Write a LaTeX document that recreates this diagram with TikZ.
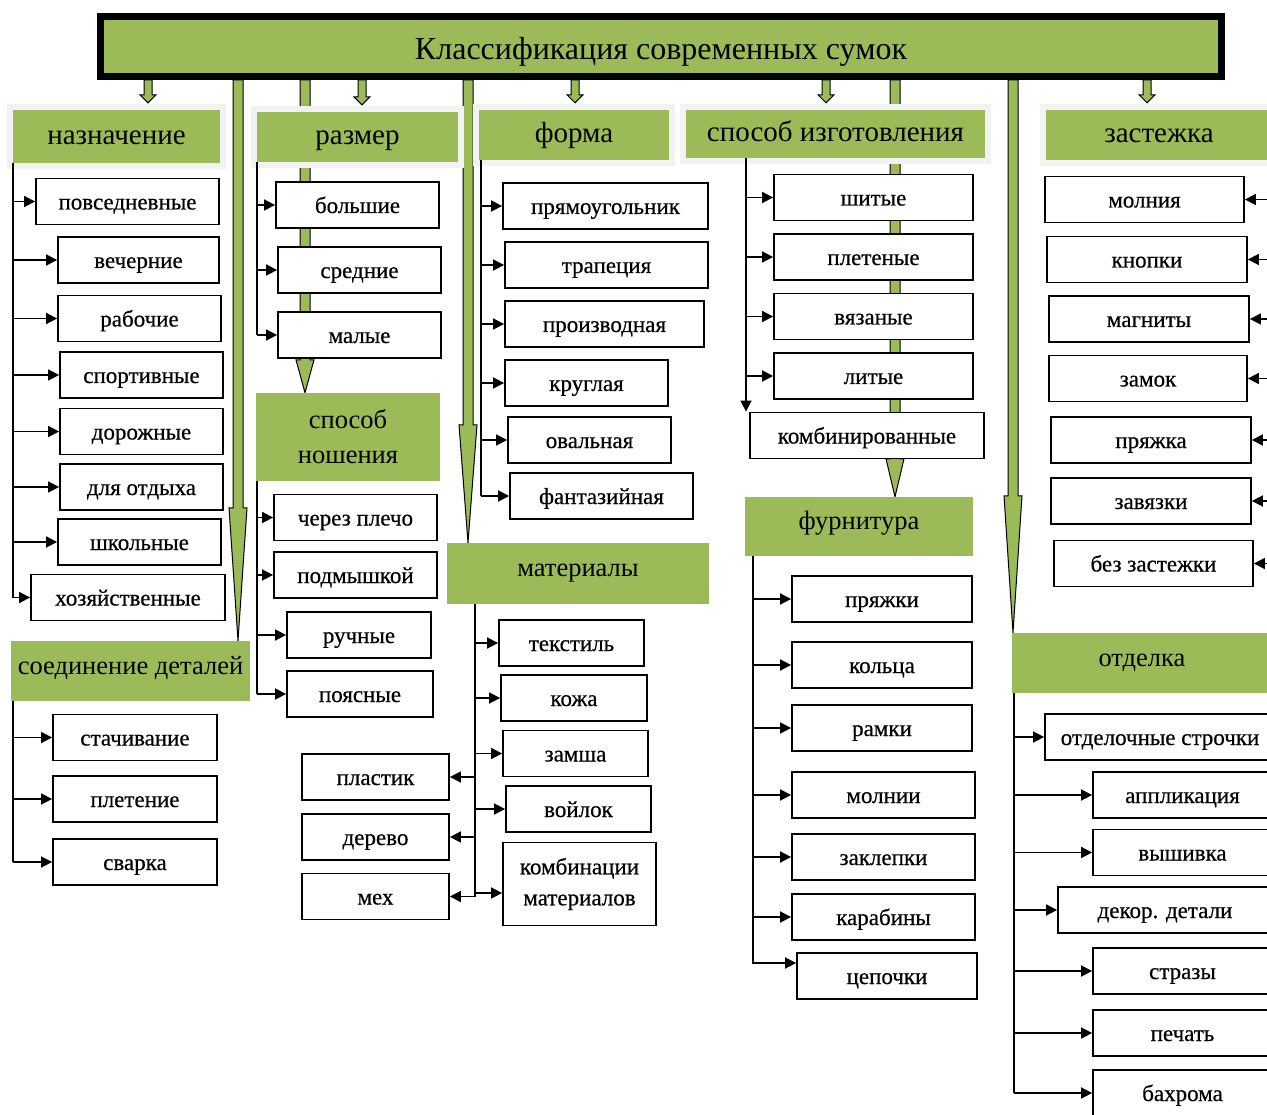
\documentclass[tikz,border=0pt]{standalone}
\usepackage{fontspec}
\setmainfont{Liberation Serif}
\newfontfamily\vidfam[FakeBold=0.5]{Liberation Serif}
\usetikzlibrary{arrows.meta,calc,shadows,backgrounds}
\definecolor{olivegr}{HTML}{9BBB59}
\newcommand\titfont{\fontsize{32}{36}\selectfont}
\newcommand\grpfont{\fontsize{29}{35}\selectfont}
\newcommand\grpbfont{\fontsize{26.5}{35}\selectfont}
\newcommand\vidfont{\vidfam\fontsize{23}{31}\selectfont}
\tikzset{
  kl/.style={draw, line width=7, fill=olivegr, minimum width=1121, minimum height=60, font=\titfont,
    text height=30, text depth=3,
    drop shadow={shadow xshift=3pt, shadow yshift=-3pt, fill=black!45}},
  grp/.style={fill=olivegr, inner sep=2, font=\grpfont},
  grpt/.style={grp, text height=20, text depth=4, preaction={draw=black!5, line width=12}},
  grpb/.style={grp, font=\grpbfont, text height=15, text depth=9},
  vid/.style={draw, line width=1.8, fill=white, minimum height=46, inner sep=1, font=\vidfont},
  vidl/.style={vid, text height=19, text depth=3},
  con/.style={line width=1.7, ->},
  garr/.style={draw, line width=1, fill=olivegr, line join=miter},
}
\begin{document}
\begin{tikzpicture}[x=1pt, y=-1pt, >={Triangle[length=11pt,width=11pt]}, line cap=butt]
\useasboundingbox (0,0) rectangle (1267,1115);
% заголовок
\node[kl] (title) at (661,46.5) {Классификация современных сумок};
% группы признаков
\foreach \n/\x/\y/\w/\h/\t in {h1/116.5/136.5/207/53/назначение, h2/357.5/137/201/50/размер,
  h3/574/135/190/50/форма, h4/835.5/134/299/48/способ изготовления, h5/1159/135/226/50/застежка}
  \node[grpt, minimum width=\w, minimum height=\h] (\n) at (\x,\y) {\t};
\foreach \n/\x/\y/\w/\h/\t in {h7/130.5/671/239/60/соединение деталей, h8/578/573.5/262/61/материалы,
  h9/859/526.5/228/59/фурнитура, h10/1142/663/260/60/отделка}
  \node[grpb, minimum width=\w, minimum height=\h] (\n) at (\x,\y) {\t};
\node[grp, font=\grpbfont, minimum width=184, minimum height=88, align=center] (h6) at (348,437) {способ\\ношения};
% назначение
\foreach \n/\x/\y/\w/\t in {p1/127.5/201.5/183/повседневные, p2/138.5/260/161/вечерние,
  p3/139.5/318.5/163/рабочие, p4/141.5/375/163/спортивные, p5/141.5/431.5/163/дорожные,
  p6/141.5/487/163/для отдыха, p7/139.5/542/163/школьные, p8/128/597.5/194/хозяйственные}
  \node[vidl, minimum width=\w] (\n) at (\x,\y) {\t};
% размер и способ ношения
\foreach \n/\x/\y/\w/\t in {r1/357.5/205/163/большие, r2/359.5/270/163/средние, r3/359.5/335/163/малые,
  n1/355.5/517.5/163/через плечо, n2/355.5/575/163/подмышкой, n3/359/635/144/ручные, n4/360/694/146/поясные}
  \node[vidl, minimum width=\w] (\n) at (\x,\y) {\t};
% форма
\foreach \n/\x/\y/\w/\t in {f1/605.5/206/205/прямоугольник, f2/606.5/265/203/трапеция,
  f3/604.5/324/199/производная, f4/586.5/383/163/круглая, f5/589.5/440/163/овальная, f6/601.5/496/183/фантазийная}
  \node[vidl, minimum width=\w] (\n) at (\x,\y) {\t};
% способ изготовления
\foreach \n/\x/\y/\w/\t in {i1/873.5/197.5/199/шитые, i2/873.5/257/199/плетеные, i3/873.5/316.5/199/вязаные,
  i4/873.5/376/199/литые, i5/867/435.5/234/комбинированные}
  \node[vidl, minimum width=\w] (\n) at (\x,\y) {\t};
% застежка
\foreach \n/\x/\y/\w/\t in {z1/1144.5/199.5/199/молния, z2/1147/259.5/200/кнопки, z3/1149/319/200/магниты,
  z4/1148/378.5/198/замок, z5/1151/440/200/пряжка, z6/1151/501/200/завязки, z7/1153.5/563.5/199/без застежки}
  \node[vidl, minimum width=\w] (\n) at (\x,\y) {\t};
% соединение деталей
\foreach \n/\y/\t in {s1/737.5/стачивание, s2/799/плетение, s3/862/сварка}
  \node[vidl, minimum width=164] (\n) at (135,\y) {\t};
% материалы
\foreach \n/\x/\y/\w/\t in {m1/571.5/643/145/текстиль, m2/574/698/146/кожа, m3/575.5/753.5/145/замша,
  m4/578.5/809/145/войлок, ml1/375.5/777/147/пластик, ml2/375.5/837/147/дерево, ml3/375.5/896.5/147/мех}
  \node[vidl, minimum width=\w] (\n) at (\x,\y) {\t};
\node[vid, minimum width=153, minimum height=83, align=center] (m5) at (579.5,884) {комбинации\\материалов};
% фурнитура
\foreach \n/\x/\y/\w/\t in {u1/882/599/180/пряжки, u2/882/665/180/кольца, u3/882/728/180/рамки,
  u4/883.5/795/183/молнии, u5/883.5/857/183/заклепки, u6/883.5/917/183/карабины, u7/887/976/180/цепочки}
  \node[vidl, minimum width=\w] (\n) at (\x,\y) {\t};
% отделка
\foreach \n/\x/\y/\w/\t in {o1/1160/737/230/отделочные строчки, o2/1182.5/795/179/аппликация,
  o3/1182.5/852.5/179/вышивка, o4/1165/910/214/декор. детали, o5/1182.5/971/179/стразы,
  o6/1182.5/1033/179/печать, o7/1182.5/1093/179/бахрома}
  \node[vidl, minimum width=\w] (\n) at (\x,\y) {\t};

% зеленые стрелки от заголовка
\begin{scope}[on background layer]
\foreach \x/\h in {148/h1, 362/h2, 575/h3, 826/h4, 1147/h5}{
  \path (title.south -| \x,0) coordinate (a) ([yshift=7pt]\h.north -| \x,0) coordinate (b);
  \filldraw[garr] ($(a)+(-4,0)$) -- ($(a)+(4,0)$) -- ($(b)+(4,-8)$) -- ($(b)+(8,-8)$) -- (b)
    -- ($(b)+(-8,-8)$) -- ($(b)+(-4,-8)$) -- cycle;
}
\foreach \x/\h/\l in {238/h7/133, 305/h6/33, 468/h8/118, 895/h9/38, 1013/h10/137}{
  \path (title.south -| \x,0) coordinate (a) (\h.north -| \x,0) coordinate (b);
  \filldraw[garr] ($(a)+(-5,0)$) -- ($(a)+(5,0)$) -- ($(b)+(5,-\l)$) -- ($(b)+(9,-\l)$) -- (b)
    -- ($(b)+(-9,-\l)$) -- ($(b)+(-5,-\l)$) -- cycle;
}
\end{scope}

% соединительные линии
\draw[con,-] (h1.south -| 13,0) -- (p8.west -| 13,0);
\foreach \k in {1,...,8} \draw[con] (p\k.west -| 13,0) -- (p\k.west);
\draw[con,-] (h2.south -| 257,0) -- (r3.west -| 257,0);
\foreach \k in {1,2,3} \draw[con] (r\k.west -| 257,0) -- (r\k.west);
\draw[con,-] (h6.south -| 257,0) -- (n4.west -| 257,0);
\foreach \k in {1,...,4} \draw[con] (n\k.west -| 257,0) -- (n\k.west);
\draw[con,-] (h3.south -| 481,0) -- (f6.west -| 481,0);
\foreach \k in {1,...,6} \draw[con] (f\k.west -| 481,0) -- (f\k.west);
\draw[con] (h4.south -| 746,0) -- (i5.north -| 746,0);
\foreach \k in {1,...,4} \draw[con] (i\k.west -| 746,0) -- (i\k.west);
\draw[con,-] (h5.south -| 1270,0) -- (z7.east -| 1270,0);
\foreach \k in {1,...,7} \draw[con] (z\k.east -| 1270,0) -- (z\k.east);
\draw[con,-] (h7.south -| 13,0) -- (s3.west -| 13,0);
\foreach \k in {1,2,3} \draw[con] (s\k.west -| 13,0) -- (s\k.west);
\draw[con,-] (h8.south -| 475,0) -- (ml3.east -| 475,0);
\foreach \k in {1,...,4} \draw[con] (m\k.west -| 475,0) -- (m\k.west);
\draw[con] ([yshift=-9pt]m5.west -| 475,0) -- ([yshift=-9pt]m5.west);
\foreach \k in {1,2,3} \draw[con] (ml\k.east -| 475,0) -- (ml\k.east);
\draw[con] (h9.south -| 753,0) -- ([yshift=13pt]u7.west -| 753,0) -- ([yshift=13pt]u7.west);
\foreach \k in {1,...,6} \draw[con] (u\k.west -| 753,0) -- (u\k.west);
\draw[con,-] (h10.south -| 1014,0) -- (o7.west -| 1014,0);
\foreach \k in {1,...,7} \draw[con] (o\k.west -| 1014,0) -- (o\k.west);
\end{tikzpicture}
\end{document}
